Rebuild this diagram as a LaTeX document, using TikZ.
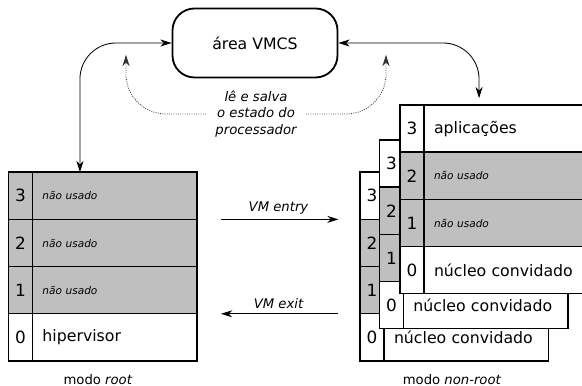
\documentclass[tikz,border=0pt]{standalone}
\usepackage{fontspec}
\setmainfont{DejaVu Sans}
\usetikzlibrary{positioning,arrows.meta}
\colorlet{naousado}{black!25}
\tikzset{
  anel/.style={draw,line width=1pt,fill=white,minimum width=0.6cm,minimum height=1.18cm,inner sep=0pt,outer sep=0pt,font=\fontsize{12}{14}\selectfont},
  camada/.style={draw,line width=1pt,fill=white,minimum width=4.1125cm,minimum height=1.18cm,inner xsep=0.25cm,inner ysep=0pt,outer sep=0pt,text width=3.6125cm,align=left,font=\fontsize{11.2}{13}\selectfont},
  livre/.style={fill=naousado},
  nusado/.style={font=\fontsize{7.5}{9}\selectfont\itshape},
  rotulo/.style={font=\fontsize{9.4}{11.7}\selectfont\itshape},
  legenda/.style={font=\fontsize{9.4}{11.7}\selectfont},
}
\begin{document}
\begin{tikzpicture}[>={Stealth[length=8pt,width=5pt,inset=2.5pt]},line width=0.6pt]
                \clip (0,0) rectangle (14.55,9.65);
                \node[draw,line width=1.3pt,rounded corners=0.55cm,minimum width=4.125cm,minimum height=1.725cm,font=\fontsize{11.2}{13}\selectfont] (vmcs) at (6.375,8.575) {área VMCS};
                % modo root
                \node[anel,livre,anchor=north west] (r3n) at (0.2125,5.345) {3};
                \node[camada,livre,nusado,right=0 of r3n] (r3) {não usado};
                \node[anel,livre,below=0 of r3n] (r2n) {2};
                \node[camada,livre,nusado,right=0 of r2n] (r2) {não usado};
                \node[anel,livre,below=0 of r2n] (r1n) {1};
                \node[camada,livre,nusado,right=0 of r1n] (r1) {não usado};
                \node[anel,below=0 of r1n] (r0n) {0};
                \node[camada,right=0 of r0n] (r0) {hipervisor};
                \node[legenda] (modoroot) at (2.45,0.15) {modo \textit{root}};
                % modo non-root, de tras para a frente
                \node[anel,anchor=north west] (a3n) at (9.0,5.345) {3};
                \node[camada,right=0 of a3n] (a3) {};
                \node[anel,livre,below=0 of a3n] (a2n) {2};
                \node[camada,livre,right=0 of a2n] (a2) {};
                \node[anel,livre,below=0 of a2n] (a1n) {1};
                \node[camada,livre,right=0 of a1n] (a1) {};
                \node[anel,below=0 of a1n] (a0n) {0};
                \node[camada,right=0 of a0n] (a0) {núcleo convidado};
                \node[anel,anchor=north west] (m3n) at (9.485,6.15) {3};
                \node[camada,right=0 of m3n] (m3) {};
                \node[anel,livre,below=0 of m3n] (m2n) {2};
                \node[camada,livre,right=0 of m2n] (m2) {};
                \node[anel,livre,below=0 of m2n] (m1n) {1};
                \node[camada,livre,right=0 of m1n] (m1) {};
                \node[anel,below=0 of m1n] (m0n) {0};
                \node[camada,right=0 of m0n] (m0) {núcleo convidado};
                \node[anel,anchor=north west] (f3n) at (10.0,7.025) {3};
                \node[camada,right=0 of f3n] (f3) {aplicações};
                \node[anel,livre,below=0 of f3n] (f2n) {2};
                \node[camada,livre,nusado,right=0 of f2n] (f2) {não usado};
                \node[anel,livre,below=0 of f2n] (f1n) {1};
                \node[camada,livre,nusado,right=0 of f1n] (f1) {não usado};
                \node[anel,below=0 of f1n] (f0n) {0};
                \node[camada,right=0 of f0n] (f0) {núcleo convidado};
                \node[legenda] (modonroot) at (11.3,0.15) {modo \textit{non-root}};
                % acesso a VMCS
                \draw[<->,rounded corners=0.9cm] (vmcs.west) -| ([xshift=-0.87cm]r3.north);
                \draw[<->,rounded corners=0.9cm,shorten >=0.17cm] (vmcs.east) -| ([xshift=-0.68cm]f3.north);
                \node[rotulo,align=center,inner xsep=6.5pt] (estado) at (6.4,6.8) {lê e salva\\o estado do\\processador};
                \coordinate (le) at (3.15,8.28);
                \coordinate (salva) at (9.65,8.28);
                \draw[->,densely dotted,black!80,rounded corners=1cm] (estado.west) -| (le);
                \draw[->,densely dotted,black!80,rounded corners=1cm] (estado.east) -| (salva);
                % transicoes
                \draw[->,shorten <=0.6cm,shorten >=0.54cm] (r3.south east) -- node[above,rotulo] (entry) {VM entry} (a3n.south west);
                \draw[<-,shorten <=0.6cm,shorten >=0.54cm] (r1.south east) -- node[above,rotulo] (exit) {VM exit} (a1n.south west);
            \end{tikzpicture}
\end{document}
